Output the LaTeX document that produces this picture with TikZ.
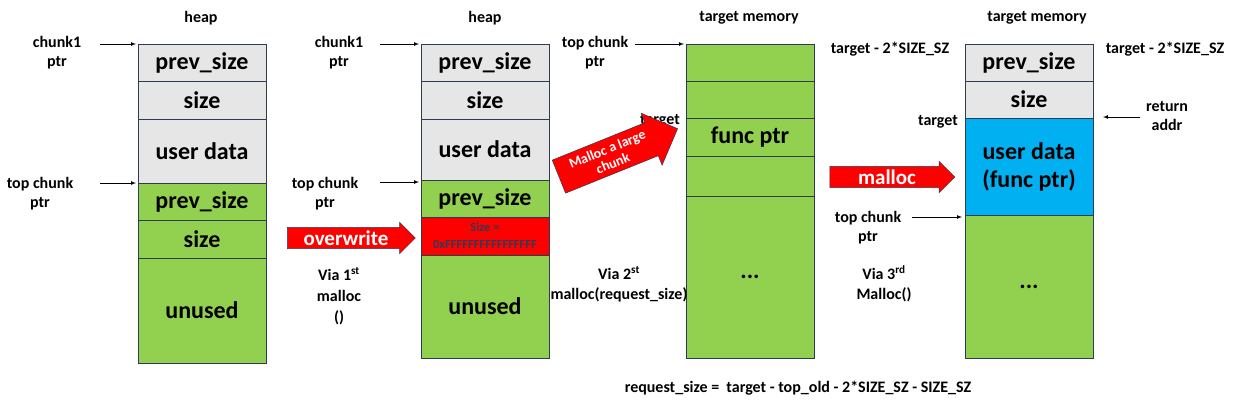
\documentclass[tikz,border=0pt]{standalone}
\usepackage{fontspec}
\setmainfont{Carlito}
\usetikzlibrary{shapes.arrows}
\definecolor{gr}{HTML}{92D050}
\definecolor{gy}{HTML}{E7E6E6}
\definecolor{bl}{HTML}{00B0F0}
\definecolor{bd}{HTML}{2F3B52}
\begin{document}
\begin{tikzpicture}[x=1pt,y=-1pt,font=\bfseries,
 cell/.style={draw=bd,line width=0.8pt,inner sep=0pt},
 big/.style={font=\bfseries\fontsize{24}{28}\selectfont},
 lab/.style={font=\bfseries\fontsize{16}{19}\selectfont,align=center},
 ptr/.style={-latex,line width=0.7pt},
 barrow/.style={single arrow,fill=red,draw=bd,line width=0.5pt,text=white,font=\bfseries\fontsize{21}{23}\selectfont,single arrow head extend=5pt,inner sep=3pt,minimum height=128pt}]
\useasboundingbox (0,0) rectangle (1238,400);
\newcommand\cel[6]{\path[cell,fill=#5] (#1,#2) rectangle (#3,#4) node[midway,big] {#6};}
% column 1
\cel{138}{44}{266}{81}{gy}{prev\_size}
\cel{138}{81}{266}{119}{gy}{size}
\cel{138}{119}{266}{183}{gy}{user data}
\cel{138}{183}{266}{220}{gr}{prev\_size}
\cel{138}{220}{266}{258}{gr}{size}
\cel{138}{258}{266}{363}{gr}{unused}
% column 2
\cel{421}{44}{549}{81}{gy}{prev\_size}
\cel{421}{81}{549}{119}{gy}{size}
\cel{421}{119}{549}{180}{gy}{user data}
\cel{421}{180}{549}{217}{gr}{prev\_size}
\path[cell,fill=red] (421,217) rectangle (549,255) node[midway,align=center,text=bd,font=\bfseries\fontsize{12.5}{17}\selectfont] {Size =\\0xFFFFFFFFFFFFFFFF};
\cel{421}{255}{549}{358}{gr}{unused}
% column 3
\cel{686}{44}{814}{81}{gr}{}
\cel{686}{81}{814}{118}{gr}{}
\cel{686}{118}{814}{156}{gr}{func ptr}
\cel{686}{156}{814}{196}{gr}{}
\cel{686}{196}{814}{358}{gr}{...}
% column 4
\cel{965}{44}{1093}{81}{gy}{prev\_size}
\cel{965}{81}{1093}{118}{gy}{size}
\path[cell,fill=bl] (965,118) rectangle (1093,215) node[midway,big,align=center] {user data\\(func ptr)};
\cel{965}{215}{1093}{358}{gr}{...}
% titles
\node[lab] (t1) at (201,18) {heap};
\node[lab] (t2) at (485,18) {heap};
\node[lab] (t3) at (749,18) {target memory};
\node[lab] (t4) at (1037,18) {target memory};
% pointers
\node[lab] (c1) at (57,53) {chunk1\\ptr};
\coordinate (c1e) at (136,44); \draw[ptr] (100,44) -- (c1e);
\node[lab] (tc1) at (40,194) {top chunk\\ptr};
\coordinate (tc1e) at (136,183); \draw[ptr] (100,183) -- (tc1e);
\node[lab] (c2) at (339,53) {chunk1\\ptr};
\coordinate (c2e) at (419,44); \draw[ptr] (380,44) -- (c2e);
\node[lab] (tc2) at (325,194) {top chunk\\ptr};
\coordinate (tc2e) at (419,182); \draw[ptr] (380,182) -- (tc2e);
\node[lab] (tc3) at (595,53) {top chunk\\ptr};
\coordinate (tc3e) at (684,44); \draw[ptr] (635,44) -- (tc3e);
\node[lab] (tg3) at (660,121) {target};
\node[lab] (ts3) at (890,49) {target - 2*SIZE\_SZ};
\node[lab] (tg4) at (938,122) {target};
\node[lab] (ts4) at (1165,49) {target - 2*SIZE\_SZ};
\node[lab] (ra) at (1167,116) {return\\addr};
\coordinate (rae) at (1103,117); \draw[ptr] (1140,117) -- (rae);
\node[lab] (tc4) at (868,228) {top chunk\\ptr};
\coordinate (tc4e) at (962,217); \draw[ptr] (912,217) -- (tc4e);
% block arrows
\node[barrow] (a1) at (346,238) {overwrite\hspace{10pt}};
\node[barrow,minimum height=125pt] (a3) at (887,177) {malloc\hspace{22pt}};
\node[barrow,rotate=22,minimum height=128pt,font=\bfseries\fontsize{14}{15}\selectfont,align=center,minimum width=56pt,single arrow head extend=9pt] (a2) at (610,156) {Malloc a large\\chunk};
% via texts
\node[lab] (v1) at (339,296) {Via 1\textsuperscript{st}\\[2pt]malloc\\[2pt]()};
\node[lab] (v2) at (619,284) {Via 2\textsuperscript{st}\\[1pt]malloc(request\_size)};
\node[lab] (v3) at (884,284) {Via 3\textsuperscript{rd}\\[1pt]Malloc()};
\node[lab] (rq) at (798,388) {request\_size =\ \ target - top\_old - 2*SIZE\_SZ - SIZE\_SZ};
\end{tikzpicture}
\end{document}
